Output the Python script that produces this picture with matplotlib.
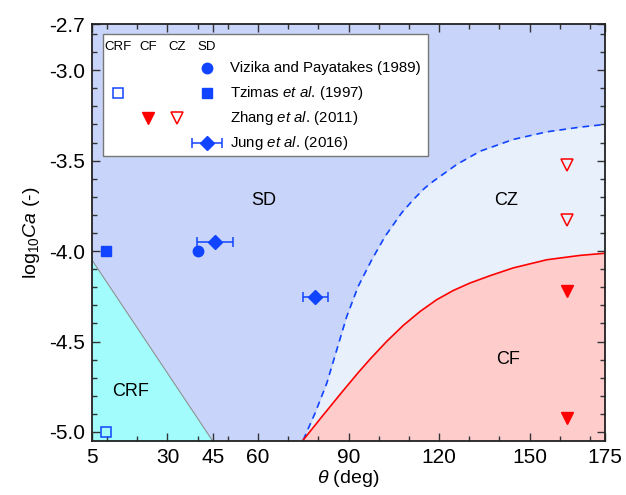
import matplotlib
matplotlib.use('Agg')
import matplotlib.pyplot as plt
from matplotlib.patches import Rectangle
from matplotlib.ticker import MultipleLocator

plt.rcParams['font.family'] = ['Liberation Sans', 'DejaVu Sans']
plt.rcParams['mathtext.fontset'] = 'custom'
plt.rcParams['mathtext.rm'] = 'Liberation Sans'
plt.rcParams['mathtext.it'] = 'Liberation Sans:italic'

# regime boundaries (theta in deg, log10 Ca)
crf_theta = [5, 45]
crf_ca = [-4.05, -5.05]

sd_cz_theta = [75.0, 78.9, 82.8, 86.1, 89.4, 93.2, 97.7, 102.1, 107.6, 111.5, 115.3,
               118.1, 125.8, 133.6, 144.6, 155.7, 166.7, 175.0]
sd_cz_ca = [-5.044, -4.896, -4.73, -4.546, -4.362, -4.195, -4.048, -3.919, -3.789, -3.715,
            -3.651, -3.614, -3.522, -3.448, -3.383, -3.341, -3.315, -3.30]

cz_cf_theta = [75.0, 81.1, 87.7, 93.2, 97.1, 102.6, 108.2, 113.7, 119.2, 124.7, 130.2,
               136.9, 144.6, 155.7, 166.7, 175.0]
cz_cf_ca = [-5.044, -4.917, -4.782, -4.672, -4.598, -4.50, -4.41, -4.334, -4.269, -4.218,
            -4.177, -4.136, -4.093, -4.048, -4.024, -4.012]

# experiments
vizika_theta, vizika_ca = [40], [-4.0]
tzimas_sd_theta, tzimas_sd_ca = [9.7], [-4.0]
tzimas_crf_theta, tzimas_crf_ca = [9.7], [-5.0]
zhang_cz_theta, zhang_cz_ca = [162.5, 162.5], [-3.527, -3.826]
zhang_cf_theta, zhang_cf_ca = [162.5, 162.5], [-4.223, -4.924]
jung_theta, jung_ca, jung_err = [45.8, 79.0], [-3.952, -4.254], [6.0, 4.2]

region_names = ['SD', 'CZ', 'CF', 'CRF']
region_theta = [62, 142.2, 143, 17.9]
region_ca = [-3.72, -3.72, -4.60, -4.777]

x_ticks = [5, 30, 45, 60, 90, 120, 150, 175]
y_ticks = [-5.0, -4.5, -4.0, -3.5, -3.0]
y_bottom, y_top = -5.05, -2.745

blue = '#1144ff'
red = '#ff0000'
c_sd = '#c8d4fa'
c_crf = '#a2fcfc'
c_cz = '#e8f0fc'
c_cf = '#ffcccc'

fig = plt.figure(figsize=(6.26, 4.95), dpi=100)
ax = fig.add_axes([0.147, 0.109, 0.8195, 0.8425])
ax.set_facecolor(c_sd)

ax.fill_between(crf_theta, crf_ca, y_bottom, color=c_crf, lw=0, zorder=1)
ax.plot(crf_theta, crf_ca, color='#888888', lw=0.7, zorder=2)
ax.fill_between(sd_cz_theta, sd_cz_ca, y_bottom, color=c_cz, lw=0, zorder=1)
ax.fill_between(cz_cf_theta, cz_cf_ca, y_bottom, color=c_cf, lw=0, zorder=1)
ax.plot(sd_cz_theta, sd_cz_ca, color=blue, lw=1.2, dashes=(4, 3), zorder=2)
ax.plot(cz_cf_theta, cz_cf_ca, color=red, lw=1.2, zorder=2)

for name, t, c in zip(region_names, region_theta, region_ca):
    ax.text(t, c, name, fontsize=13, ha='center', va='center', zorder=3)

ax.plot(vizika_theta, vizika_ca, 'o', color=blue, ms=7.5, zorder=4)
ax.plot(tzimas_sd_theta, tzimas_sd_ca, 's', color=blue, ms=6.5, zorder=4)
ax.plot(tzimas_crf_theta, tzimas_crf_ca, 's', mfc='none', mec=blue, mew=1.1, ms=6.5, zorder=4)
ax.plot(zhang_cz_theta, zhang_cz_ca, 'v', mfc='none', mec=red, mew=1.1, ms=8, zorder=4)
ax.plot(zhang_cf_theta, zhang_cf_ca, 'v', color=red, ms=8, zorder=4)
ax.errorbar(jung_theta, jung_ca, xerr=jung_err, fmt='D', color=blue, ms=7,
            elinewidth=1.1, capsize=3.5, capthick=1.1, zorder=4)

ax.set_xlim(5, 175)
ax.set_ylim(y_bottom, y_top)
ax.set_xticks(x_ticks)
ax.xaxis.set_minor_locator(MultipleLocator(10))
ax.set_yticks(y_ticks + [y_top])
ax.set_yticklabels(['%.1f' % v for v in y_ticks] + ['-2.7'])
ax.yaxis.set_minor_locator(MultipleLocator(0.1))
ax.tick_params(which='both', direction='in', top=True, right=True, labelsize=15, pad=5)
ax.tick_params(which='major', length=6, width=1, color='#333333')
ax.tick_params(which='minor', length=3.5, width=1, color='#333333')
for s in ax.spines.values():
    s.set_linewidth(1.3)
    s.set_color('#222222')

ax.set_xlabel(r'$\theta$ (deg)', fontsize=14, labelpad=1)
ax.set_ylabel(r'log$_{10}$$\it{Ca}$ (-)', fontsize=14, labelpad=5)

# hand-made legend with one column per regime
tr = ax.transAxes
ax.add_patch(Rectangle((0.0205, 0.683), 0.6335, 0.292, transform=tr, fc='white',
                       ec='#777777', lw=1, zorder=5))
for name, x in zip(['CRF', 'CF', 'CZ', 'SD'], [0.0507, 0.109, 0.166, 0.224]):
    ax.text(x, 0.945, name, transform=tr, fontsize=9.5, ha='center', va='center', zorder=6)
row_y = [0.894, 0.835, 0.775, 0.715]
ax.plot([0.224], [row_y[0]], 'o', color=blue, ms=7.5, transform=tr, zorder=6)
ax.plot([0.0507], [row_y[1]], 's', mfc='white', mec=blue, mew=1.1, ms=6.5, transform=tr, zorder=6)
ax.plot([0.224], [row_y[1]], 's', color=blue, ms=6.5, transform=tr, zorder=6)
ax.plot([0.109], [row_y[2]], 'v', color=red, ms=8, transform=tr, zorder=6)
ax.plot([0.166], [row_y[2]], 'v', mfc='white', mec=red, mew=1.1, ms=8, transform=tr, zorder=6)
ax.errorbar([0.224], [row_y[3]], xerr=[0.029], fmt='D', color=blue, ms=7, elinewidth=1.1,
            capsize=3.5, capthick=1.1, transform=tr, zorder=6)
labels = ['Vizika and Payatakes (1989)', r'Tzimas $\it{et\ al.}\,$(1997)',
          r'Zhang $\it{et\ al.}\,$(2011)', r'Jung $\it{et\ al.}\,$(2016)']
for lab, y in zip(labels, row_y):
    ax.text(0.269, y, lab, transform=tr, fontsize=10.8, ha='left', va='center', zorder=6)

fig.savefig('out.png', dpi=100)
